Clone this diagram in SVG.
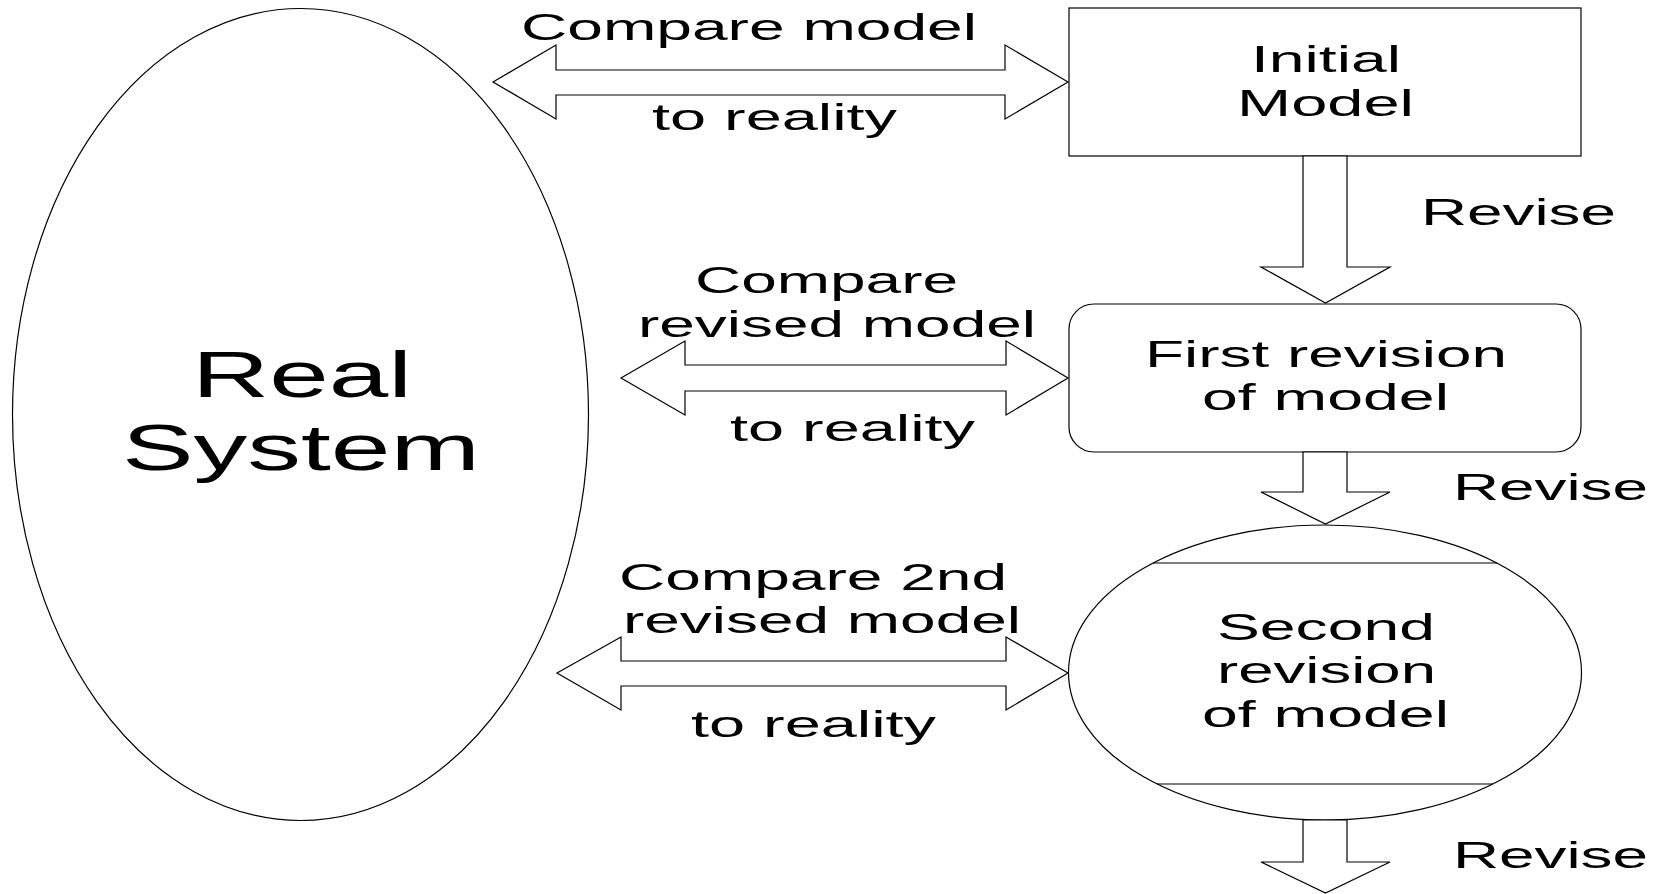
<svg xmlns="http://www.w3.org/2000/svg" width="1665" height="894" viewBox="0 0 1665 894">
<style>
.shape{fill:#fff;stroke:#000;stroke-width:1.2}
.line{stroke:#000;stroke-width:1.2;fill:none}
.lbl{font-family:"Liberation Sans",Arial,sans-serif;font-size:37.5px;fill:#000}
.big{font-family:"Liberation Sans",Arial,sans-serif;font-size:64px;fill:#000}
</style>
<rect x="0" y="0" width="1665" height="894" fill="#fff"/>
<g id="real-system">
<ellipse class="shape" cx="300.5" cy="414.5" rx="288" ry="406"/>
<text class="big" x="192" y="397" textLength="220" lengthAdjust="spacingAndGlyphs">Real</text>
<text class="big" x="122" y="470" textLength="358" lengthAdjust="spacingAndGlyphs">System</text>
</g>
<g id="initial-model">
<rect class="shape" x="1069" y="8" width="512" height="148"/>
<text class="lbl" x="1251" y="72" textLength="150" lengthAdjust="spacingAndGlyphs">Initial</text>
<text class="lbl" x="1237" y="116" textLength="177" lengthAdjust="spacingAndGlyphs">Model</text>
</g>
<g id="first-revision">
<rect class="shape" x="1069" y="304" width="512" height="148" rx="25" ry="25"/>
<text class="lbl" x="1145" y="367" textLength="362" lengthAdjust="spacingAndGlyphs">First revision</text>
<text class="lbl" x="1202" y="410" textLength="247" lengthAdjust="spacingAndGlyphs">of model</text>
</g>
<g id="second-revision">
<ellipse class="shape" cx="1325" cy="672.5" rx="256.5" ry="147.5"/>
<line class="line" x1="1153" y1="563" x2="1497" y2="563"/>
<line class="line" x1="1157" y1="784" x2="1493" y2="784"/>
<text class="lbl" x="1217" y="640" textLength="218" lengthAdjust="spacingAndGlyphs">Second</text>
<text class="lbl" x="1217" y="683" textLength="219" lengthAdjust="spacingAndGlyphs">revision</text>
<text class="lbl" x="1202" y="727" textLength="247" lengthAdjust="spacingAndGlyphs">of model</text>
</g>
<g id="connectors">
<polygon class="shape" points="493,82 556,45 556,70 1005,70 1005,45 1068,82 1005,119 1005,95 556,95 556,119"/>
<polygon class="shape" points="621,378 685,341 685,365 1006,365 1006,341 1068,378 1006,415 1006,391 685,391 685,415"/>
<polygon class="shape" points="557,673 621,637 621,661 1006,661 1006,637 1068,673 1006,710 1006,686 621,686 621,710"/>
<polygon class="shape" points="1303,156 1347,156 1347,267 1390,267 1325.5,303 1261,267 1303,267"/>
<polygon class="shape" points="1303,452 1347,452 1347,492 1390,492 1325.5,524 1261,492 1303,492"/>
<polygon class="shape" points="1303,820 1347,820 1347,862 1390,862 1325.5,893 1261,862 1303,862"/>
<text class="lbl" x="521" y="40" textLength="456" lengthAdjust="spacingAndGlyphs">Compare model</text>
<text class="lbl" x="652" y="130" textLength="245" lengthAdjust="spacingAndGlyphs">to reality</text>
<text class="lbl" x="1421" y="225" textLength="195" lengthAdjust="spacingAndGlyphs">Revise</text>
<text class="lbl" x="695" y="293" textLength="263" lengthAdjust="spacingAndGlyphs">Compare</text>
<text class="lbl" x="638" y="337" textLength="398" lengthAdjust="spacingAndGlyphs">revised model</text>
<text class="lbl" x="730" y="441" textLength="245" lengthAdjust="spacingAndGlyphs">to reality</text>
<text class="lbl" x="1453" y="500" textLength="195" lengthAdjust="spacingAndGlyphs">Revise</text>
<text class="lbl" x="619" y="590" textLength="388" lengthAdjust="spacingAndGlyphs">Compare 2nd</text>
<text class="lbl" x="623" y="633" textLength="398" lengthAdjust="spacingAndGlyphs">revised model</text>
<text class="lbl" x="691" y="737" textLength="245" lengthAdjust="spacingAndGlyphs">to reality</text>
<text class="lbl" x="1453" y="868" textLength="195" lengthAdjust="spacingAndGlyphs">Revise</text>
</g>
</svg>
